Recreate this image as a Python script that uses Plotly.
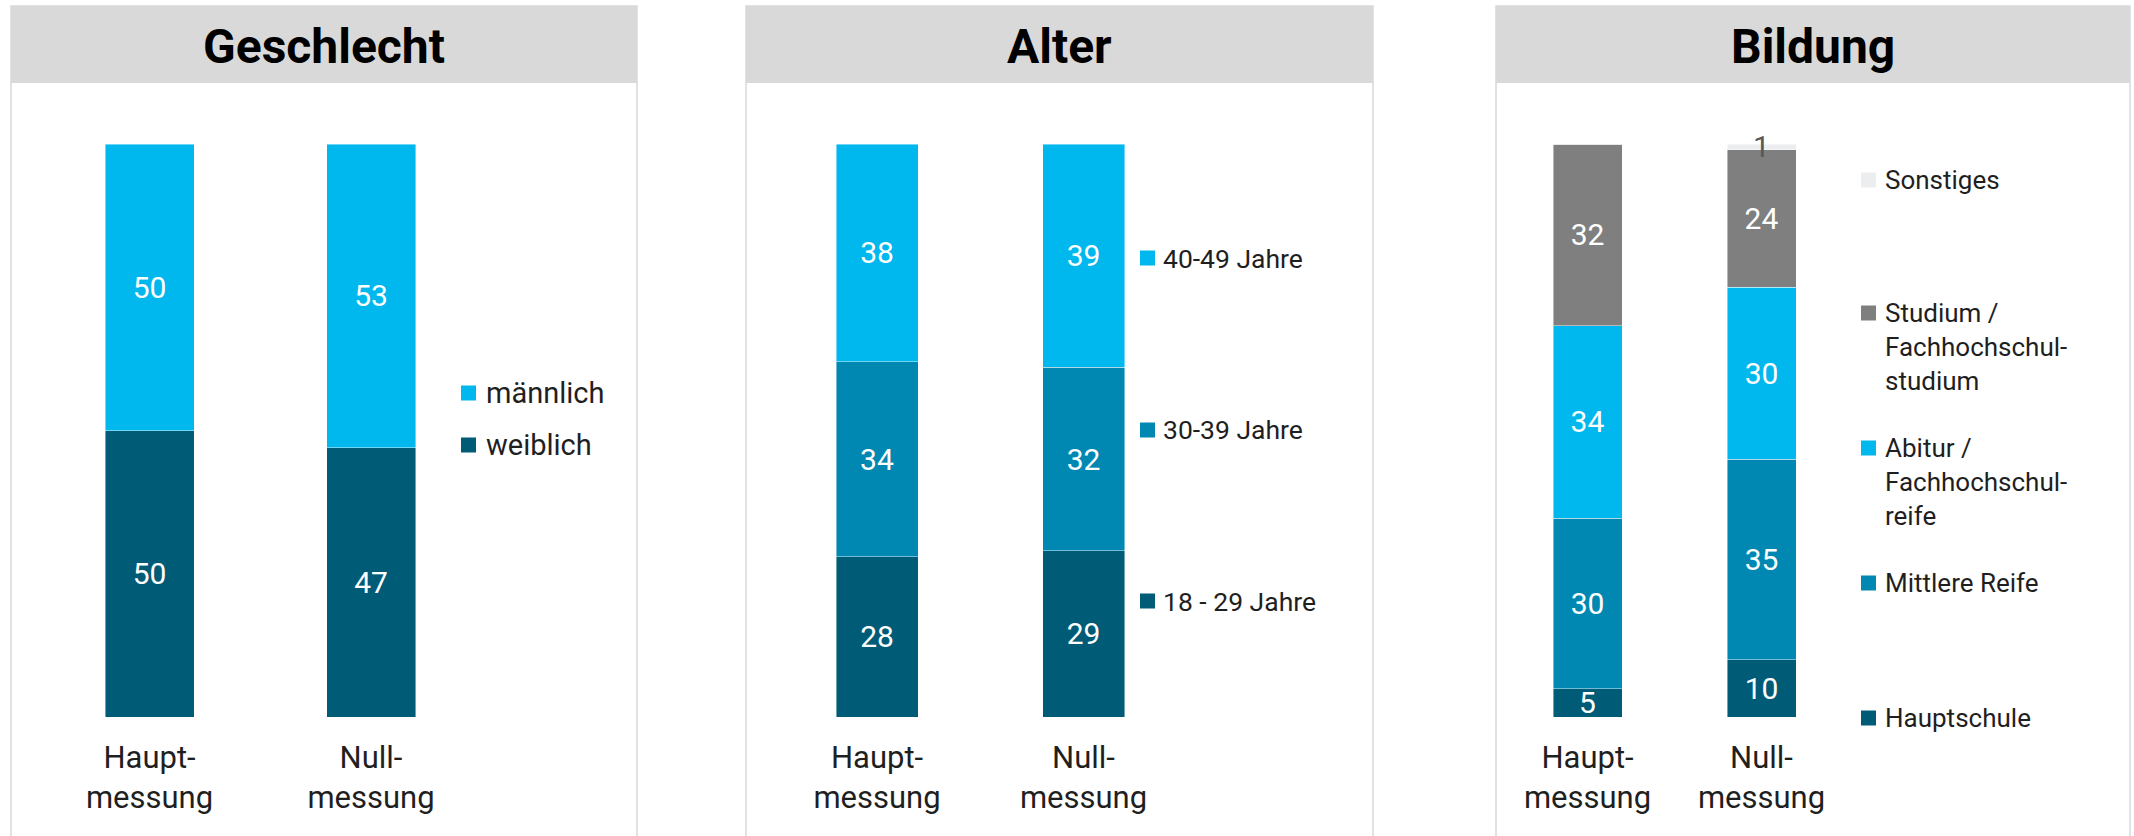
import plotly.graph_objects as go

W, H = 2134, 836

# ---- data -------------------------------------------------------------
categories = ["Haupt-<br>messung", "Null-<br>messung"]
panel_titles = ["Geschlecht", "Alter", "Bildung"]

# Geschlecht (bottom to top)
gender_names = ["weiblich", "männlich"]
gender_weiblich = [50, 47]
gender_maennlich = [50, 53]

# Alter (bottom to top)
age_names = ["18 - 29 Jahre", "30-39 Jahre", "40-49 Jahre"]
age_18_29 = [28, 29]
age_30_39 = [34, 32]
age_40_49 = [38, 39]

# Bildung (bottom to top)
edu_names = ["Hauptschule", "Mittlere Reife",
             "Abitur /<br>Fachhochschul-<br>reife",
             "Studium /<br>Fachhochschul-<br>studium", "Sonstiges"]
edu_hauptschule = [5, 10]
edu_mittlere = [30, 35]
edu_abitur = [34, 30]
edu_studium = [32, 24]
edu_sonstiges = [0, 1]

# ---- style ------------------------------------------------------------
DARK = "#005B76"
MID = "#0088B2"
LIGHT = "#00B7EE"
GRAY = "#7F7F7F"
PALE = "#ECEDEF"
HEADER = "#D9D9D9"
TEXT = "#1F1F1F"
FONT = "Roboto, 'Open Sans', sans-serif"

PLOT_TOP, PLOT_BOTTOM = 144, 717


def px_x(v):
    return v / W


def px_y(v):
    return 1 - v / H


panels = [
    dict(x0=11, x1=637, centers=(149.5, 371.0), bw=89,
         mark_x=461, text_x=484, leg_size=29,
         series=[(gender_names[0], gender_weiblich, DARK, "white"),
                 (gender_names[1], gender_maennlich, LIGHT, "white")],
         legend_y={"männlich": 393, "weiblich": 445}),
    dict(x0=746, x1=1373, centers=(877.0, 1083.5), bw=82,
         mark_x=1140, text_x=1161, leg_size=26.5,
         series=[(age_names[0], age_18_29, DARK, "white"),
                 (age_names[1], age_30_39, MID, "white"),
                 (age_names[2], age_40_49, LIGHT, "white")],
         legend_y={"40-49 Jahre": 258, "30-39 Jahre": 430, "18 - 29 Jahre": 601}),
    dict(x0=1496, x1=2130, centers=(1587.5, 1761.5), bw=69,
         mark_x=1861, text_x=1883, leg_size=26,
         series=[(edu_names[0], edu_hauptschule, DARK, "white"),
                 (edu_names[1], edu_mittlere, MID, "white"),
                 (edu_names[2], edu_abitur, LIGHT, "white"),
                 (edu_names[3], edu_studium, GRAY, "white"),
                 (edu_names[4], edu_sonstiges, PALE, "#595959")],
         # vertical position of each entry's first text line
         legend_y={edu_names[4]: 180, edu_names[3]: 313, edu_names[2]: 448,
                   edu_names[1]: 583, edu_names[0]: 718}),
]

fig = go.Figure()
shapes = []
annotations = []
layout_axes = {}

for i, p in enumerate(panels):
    n = "" if i == 0 else str(i + 1)
    xref, yref = "x" + n, "y" + n
    c0, c1 = p["centers"]
    step = c1 - c0
    dom = [px_x(c0 - step / 2), px_x(c1 + step / 2)]
    width = p["bw"] / step

    for name, vals, color, tcolor in p["series"]:
        fig.add_trace(go.Bar(
            x=categories, y=vals, name=name, xaxis=xref, yaxis=yref,
            width=width,
            marker=dict(color=color, line=dict(color="rgba(255,255,255,0.55)", width=0.8)),
            text=[str(v) if v > 0 else "" for v in vals],
            textposition="inside", insidetextanchor="middle", textangle=0,
            textfont=dict(color=tcolor, size=30, family=FONT),
            cliponaxis=False, showlegend=False, hoverinfo="skip",
        ))

    layout_axes["xaxis" + n] = dict(
        domain=dom, anchor=yref, range=[-0.5, 1.5], showgrid=False, zeroline=False,
        showline=False, ticks="", ticklabelstandoff=19,
        tickfont=dict(size=31, color=TEXT, family=FONT), fixedrange=True,
    )
    layout_axes["yaxis" + n] = dict(
        domain=[px_y(PLOT_BOTTOM), px_y(PLOT_TOP)], anchor=xref, range=[0, 100],
        visible=False, fixedrange=True,
    )

    # panel frame and header band
    shapes.append(dict(type="rect", xref="paper", yref="paper",
                       x0=px_x(p["x0"]), x1=px_x(p["x1"]), y0=px_y(900), y1=px_y(6),
                       line=dict(color=HEADER, width=1.5), fillcolor="white", layer="below"))
    shapes.append(dict(type="rect", xref="paper", yref="paper",
                       x0=px_x(p["x0"]), x1=px_x(p["x1"]), y0=px_y(83), y1=px_y(6),
                       line=dict(width=0), fillcolor=HEADER, layer="below"))
    annotations.append(dict(text="<b>%s</b>" % panel_titles[i], xref="paper", yref="paper",
                            x=px_x((p["x0"] + p["x1"]) / 2), y=px_y(46),
                            xanchor="center", yanchor="middle", showarrow=False,
                            font=dict(size=48, color="black", family=FONT)))

    # legend entries: square marker beside the first text line
    leg_line = 1.3 * p["leg_size"]
    for name, vals, color, tcolor in p["series"]:
        y_first = p["legend_y"][name]
        n_lines = name.count("<br>") + 1
        shapes.append(dict(type="rect", xref="paper", yref="paper",
                           x0=px_x(p["mark_x"]), x1=px_x(p["mark_x"] + 15),
                           y0=px_y(y_first + 7.5), y1=px_y(y_first - 7.5),
                           line=dict(width=0), fillcolor=color))
        annotations.append(dict(text=name, xref="paper", yref="paper",
                                x=px_x(p["text_x"]),
                                y=px_y(y_first + (n_lines - 1) * leg_line / 2),
                                xanchor="left", yanchor="middle", align="left",
                                showarrow=False,
                                font=dict(size=p["leg_size"], color=TEXT, family=FONT)))

fig.update_layout(
    width=W, height=H, margin=dict(l=0, r=0, t=0, b=0),
    barmode="stack", barnorm="percent",
    paper_bgcolor="white", plot_bgcolor="rgba(0,0,0,0)",
    uniformtext=dict(minsize=30, mode="show"),
    font=dict(family=FONT, color=TEXT),
    shapes=shapes, annotations=annotations, showlegend=False,
    **layout_axes,
)

fig.write_html("out.html", config={"displayModeBar": False})
